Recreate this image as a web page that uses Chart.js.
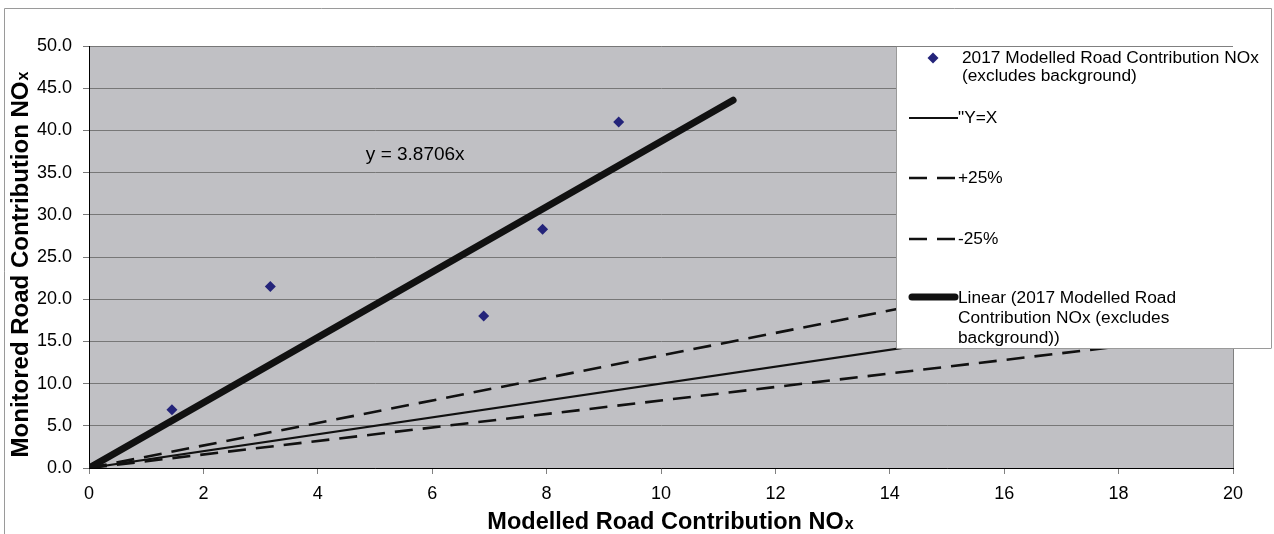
<!DOCTYPE html>
<html>
<head>
<meta charset="utf-8">
<script src="https://cdn.jsdelivr.net/npm/chart.js@4"></script>
<style>
html,body{margin:0;padding:0;background:#fff;}
canvas{display:block;}
</style>
</head>
<body>
<canvas id="c" width="1274" height="534"></canvas>
<script>
// ---- data ----
const modelled = [1.45, 3.17, 6.90, 7.93, 9.26];
const monitored = [6.9, 21.5, 18.0, 28.3, 41.0];
const refX = [0, 20];
const yEqualsX = [0, 20];
const plus25 = [0, 26.67];
const minus25 = [0, 16.0];
const trendX = [0, 11.26];
const trendY = [0, 43.58];
const xTicks = [0, 2, 4, 6, 8, 10, 12, 14, 16, 18, 20];
const yTicks = [0, 5, 10, 15, 20, 25, 30, 35, 40, 45, 50];
const seriesLabels = ['2017 Modelled Road Contribution NOx (excludes background)', '"Y=X', '+25%', '-25%', 'Linear (2017 Modelled Road Contribution NOx (excludes background))'];
const equationText = 'y = 3.8706x';

const toPts = (xs, ys) => xs.map((x, i) => ({x: x, y: ys[i]}));
const FONT = '"Liberation Sans", Arial, sans-serif';
const DASH = [18, 10];

const decor = {
  id: 'decor',
  beforeDraw(chart) {
    const {ctx, chartArea: a} = chart;
    ctx.save();
    ctx.fillStyle = '#fff';
    ctx.fillRect(0, 0, chart.width, chart.height);
    // outer frame
    ctx.strokeStyle = '#9a9a9a';
    ctx.lineWidth = 1;
    ctx.beginPath();
    ctx.moveTo(4.5, 534); ctx.lineTo(4.5, 8.5); ctx.lineTo(1271.5, 8.5); ctx.lineTo(1271.5, 348);
    ctx.stroke();
    // plot background
    ctx.fillStyle = '#c0c0c4';
    ctx.fillRect(a.left, a.top, a.right - a.left, a.bottom - a.top);
    ctx.restore();
  },
  afterDatasetsDraw(chart) {
    const {ctx, chartArea: a} = chart;
    ctx.save();
    // right border of plot
    ctx.strokeStyle = '#808080';
    ctx.lineWidth = 1;
    ctx.beginPath();
    ctx.moveTo(a.right + 0.5, a.top); ctx.lineTo(a.right + 0.5, a.bottom);
    ctx.stroke();
    // equation label
    const xs = chart.scales.x, ys = chart.scales.y;
    ctx.fillStyle = '#000';
    ctx.font = '19px ' + FONT;
    ctx.textBaseline = 'middle';
    ctx.textAlign = 'left';
    ctx.fillText(equationText, xs.getPixelForValue(4.84), ys.getPixelForValue(37.1));

    // legend box
    const L = 896, T = 46, R = 1271, B = 348;
    ctx.fillStyle = '#fff';
    ctx.fillRect(L, T, R - L, B - T);
    ctx.strokeStyle = '#9a9a9a';
    ctx.beginPath();
    ctx.moveTo(L + 0.5, T); ctx.lineTo(L + 0.5, B + 0.5); ctx.lineTo(R + 0.5, B + 0.5);
    ctx.stroke();
    ctx.strokeStyle = '#808080';
    ctx.beginPath();
    ctx.moveTo(L, T + 0.5); ctx.lineTo(a.right, T + 0.5);
    ctx.stroke();

    const ds = chart.data.datasets;
    ctx.font = '17.3px ' + FONT;
    ctx.fillStyle = '#000';
    const tx = 962, tx2 = 958;
    // item 1: marker
    ctx.fillStyle = ds[0].backgroundColor;
    ctx.beginPath();
    ctx.moveTo(933, 52.5); ctx.lineTo(938.5, 58); ctx.lineTo(933, 63.5); ctx.lineTo(927.5, 58); ctx.closePath();
    ctx.fill();
    ctx.fillStyle = '#000';
    ctx.fillText('2017 Modelled Road Contribution NOx', tx, 58);
    ctx.fillText('(excludes background)', tx, 76);
    const sample = (y, d) => {
      ctx.save();
      ctx.strokeStyle = d.borderColor;
      ctx.lineWidth = d.borderWidth;
      ctx.lineCap = d.borderCapStyle || 'butt';
      ctx.setLineDash(d.borderDash || []);
      ctx.beginPath();
      const off = d.borderWidth > 4 ? 3 : 0;
      ctx.moveTo(909 + off, y); ctx.lineTo(958 - off, y);
      ctx.stroke();
      ctx.restore();
    };
    sample(118, ds[1]); ctx.fillText(ds[1].label, tx2, 118);
    sample(178, ds[2]); ctx.fillText(ds[2].label, tx2, 178);
    sample(239, ds[3]); ctx.fillText(ds[3].label, tx2, 239);
    sample(297, ds[4]);
    ctx.fillText('Linear (2017 Modelled Road', tx2, 298);
    ctx.fillText('Contribution NOx (excludes', tx2, 318);
    ctx.fillText('background))', tx2, 338);

    // axis titles with small "x"
    const drawTitle = (main, cx, cy, rot, size) => {
      ctx.save();
      ctx.translate(cx, cy);
      ctx.rotate(rot);
      const big = 'bold ' + size + 'px ' + FONT, small = 'bold ' + Math.round(size * 0.68) + 'px ' + FONT;
      ctx.font = big; const w1 = ctx.measureText(main).width;
      ctx.font = small; const w2 = ctx.measureText('x').width;
      const x0 = -(w1 + w2) / 2;
      ctx.textAlign = 'left';
      ctx.textBaseline = 'alphabetic';
      ctx.fillStyle = '#000';
      ctx.font = big; ctx.fillText(main, x0, 8);
      ctx.font = small; ctx.fillText('x', x0 + w1 + 1, 8);
      ctx.restore();
    };
    drawTitle('Modelled Road Contribution NO', 670, 521, 0, 23.5);
    drawTitle('Monitored Road Contribution NO', 20, 265, -Math.PI / 2, 24);
    ctx.restore();
  }
};

new Chart(document.getElementById('c'), {
  type: 'scatter',
  data: {
    datasets: [
      {label: seriesLabels[0], data: toPts(modelled, monitored), showLine: false,
       pointStyle: 'rectRot', pointRadius: 5.5, backgroundColor: '#24247a', borderColor: '#24247a', borderWidth: 0, order: 0},
      {label: seriesLabels[1], data: toPts(refX, yEqualsX), showLine: true, pointRadius: 0,
       borderColor: '#111', borderWidth: 2.2, fill: false, order: 3},
      {label: seriesLabels[2], data: toPts(refX, plus25), showLine: true, pointRadius: 0,
       borderColor: '#111', borderWidth: 2.6, borderDash: DASH, fill: false, order: 3},
      {label: seriesLabels[3], data: toPts(refX, minus25), showLine: true, pointRadius: 0,
       borderColor: '#111', borderWidth: 2.6, borderDash: DASH, fill: false, order: 3},
      {label: seriesLabels[4], data: toPts(trendX, trendY), showLine: true, pointRadius: 0,
       borderColor: '#111', borderWidth: 7, borderCapStyle: 'round', fill: false, order: 1}
    ]
  },
  options: {
    responsive: false,
    animation: false,
    events: [],
    layout: {padding: {top: 46, right: 41, left: 0, bottom: 0}},
    plugins: {legend: {display: false}, tooltip: {enabled: false}},
    scales: {
      x: {
        type: 'linear', min: 0, max: 20,
        afterFit(s) { s.height = 66; },
        afterBuildTicks(s) { s.ticks = xTicks.map(v => ({value: v})); },
        ticks: {color: '#000', font: {family: FONT, size: 18}, padding: 9, maxRotation: 0},
        grid: {drawOnChartArea: false, drawTicks: true, tickLength: 6, color: '#808080'},
        border: {display: true, color: '#000', width: 1}
      },
      y: {
        type: 'linear', min: 0, max: 50,
        afterFit(s) { s.width = 89; },
        afterBuildTicks(s) { s.ticks = yTicks.map(v => ({value: v})); },
        ticks: {color: '#000', font: {family: FONT, size: 18}, padding: 11, callback: v => v.toFixed(1)},
        grid: {drawOnChartArea: true, drawTicks: true, tickLength: 6, color: '#777', lineWidth: 1},
        border: {display: true, color: '#000', width: 1}
      }
    }
  },
  plugins: [decor]
});
</script>
</body>
</html>
